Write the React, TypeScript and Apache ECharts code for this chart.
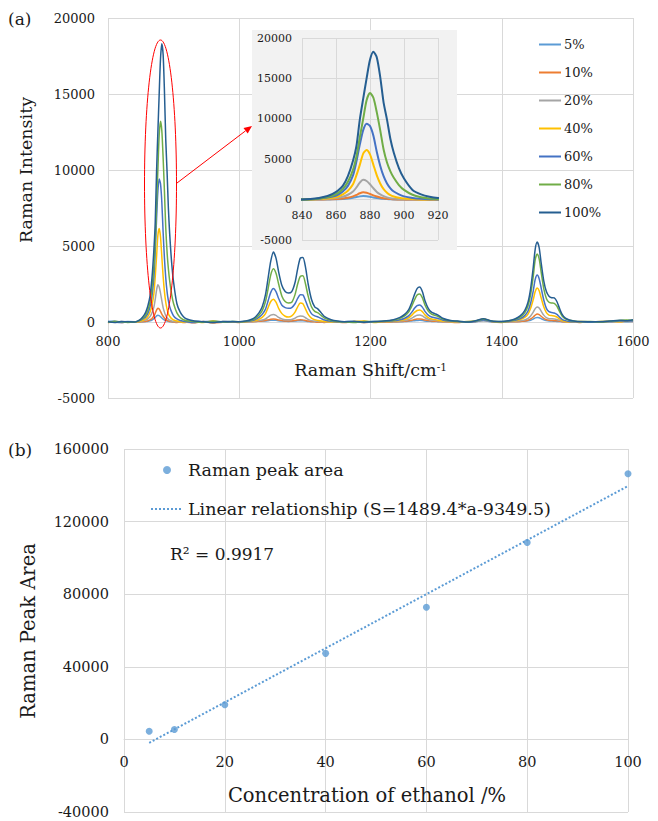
import React, { useEffect, useRef } from 'react';
import * as echarts from 'echarts';

// ---------- Panel (a): Raman spectra ----------
const shifts = [
  800, 810, 820, 830, 840,
  845, 850, 855, 858, 861, 864, 867, 870, 872, 874, 876, 878, 880, 882, 884, 886, 888, 890, 892, 894, 897, 900, 905, 910, 915, 920,
  930, 945, 960, 975, 990,
  1000, 1010, 1020, 1025, 1030, 1035, 1040, 1044, 1048, 1052, 1056, 1060, 1065, 1070, 1075, 1080, 1085, 1089, 1093, 1097, 1101, 1105, 1110, 1115, 1120, 1125, 1130, 1140, 1150, 1160,
  1175, 1190, 1205, 1220,
  1235, 1245, 1252, 1258, 1263, 1267, 1271, 1275, 1279, 1283, 1288, 1293, 1298, 1303, 1310, 1320, 1335, 1350,
  1360, 1372, 1385, 1400,
  1410, 1420, 1428, 1435, 1440, 1444, 1448, 1451, 1454, 1457, 1460, 1464, 1468, 1472, 1476, 1480, 1484, 1488, 1492, 1497, 1503, 1510, 1520, 1535, 1550,
  1565, 1580, 1590, 1600,
];

const concLabels = ['5%', '10%', '20%', '40%', '60%', '80%', '100%'];
const seriesColors = ['#5B9BD5', '#ED7D31', '#A5A5A5', '#FFC000', '#4472C4', '#70AD47', '#255E91'];

const s5 = [
  30, 60, -10, 40, 20,
  0, 10, 20, 30, 50, 80, 130, 220, 310, 400, 450, 420, 350, 260, 190, 130, 90, 60, 40, 20, 10, 0, 30, 10, 20, 0,
  40, 10, 60, 20, 30,
  10, 20, 30, 40, 50, 60, 70, 90, 110, 120, 110, 80, 60, 50, 40, 50, 60, 80, 90, 80, 60, 40, 20, 30, 10, 20, 0, 30, 10, 20,
  40, 10, 30, 0,
  10, 20, 30, 50, 70, 90, 100, 110, 100, 70, 50, 40, 30, 20, 10, 20, 0, 30,
  20, 100, 10, 30,
  20, 30, 40, 50, 80, 120, 200, 270, 300, 280, 220, 140, 90, 60, 60, 50, 40, 30, 20, 10, 30, 0, 20, 10, 30,
  20, 50, 10, 40,
];
const s10 = [
  -40, 20, -30, 10, -20,
  0, 10, 30, 50, 80, 140, 230, 400, 580, 780, 900, 850, 700, 520, 380, 260, 170, 110, 70, 40, 20, 0, -30, -10, -40, -20,
  -50, 30, -60, -20, 10,
  -30, 10, 20, 30, 50, 70, 100, 140, 180, 200, 180, 130, 90, 70, 60, 70, 100, 130, 150, 140, 100, 60, 30, 10, -20, 0, -30, 20, -10, -40,
  30, -40, 10, -20,
  10, 30, 50, 80, 120, 160, 190, 200, 180, 130, 90, 60, 50, 40, 20, 0, -30, 10,
  30, 150, 20, -30,
  10, 20, 40, 70, 120, 200, 330, 450, 530, 490, 380, 240, 150, 110, 100, 90, 80, 50, 20, 0, -20, 10, -30, 20, -10,
  40, 10, 60, 30,
];
const s20 = [
  10, -20, 30, 0, -10,
  10, 40, 90, 140, 220, 350, 600, 1000, 1500, 2100, 2450, 2300, 1900, 1400, 950, 650, 420, 280, 180, 120, 70, 40, 10, 0, 20, -10,
  20, 0, -30, 40, 10,
  10, 20, 40, 60, 90, 130, 200, 330, 450, 500, 430, 300, 200, 150, 150, 170, 250, 350, 400, 380, 280, 170, 90, 50, 40, 30, 10, 0, 20, 10,
  -20, 30, 10, 20,
  30, 60, 100, 160, 260, 360, 440, 460, 400, 280, 180, 130, 110, 90, 50, 20, 0, 10,
  20, 90, 30, 0,
  20, 40, 80, 140, 240, 400, 650, 880, 990, 920, 720, 450, 280, 220, 210, 200, 170, 110, 60, 20, 10, 0, 20, -10, 10,
  20, 40, 30, 50,
];
const s40 = [
  -30, 40, 0, -20, 10,
  20, 70, 150, 230, 380, 650, 1100, 1900, 3000, 4300, 5700, 6150, 5600, 4300, 3000, 2000, 1300, 850, 550, 380, 220, 130, 60, 20, 0, 10,
  50, -40, 60, -10, 20,
  0, 20, 60, 100, 180, 300, 550, 950, 1350, 1500, 1300, 900, 550, 380, 330, 400, 650, 1000, 1250, 1200, 850, 500, 250, 150, 100, 60, 30, 0, 20, -20,
  40, 60, -30, 30,
  50, 100, 170, 280, 450, 630, 760, 790, 680, 470, 290, 200, 160, 120, 60, 30, 10, 30,
  60, 200, 40, -20,
  30, 80, 160, 300, 520, 900, 1480, 2000, 2240, 2050, 1600, 1000, 620, 450, 420, 400, 330, 200, 100, 40, 20, 10, 30, -10, 40,
  50, 20, 80, 100,
];
const s60 = [
  30, -10, -40, 20, 0,
  40, 120, 250, 380, 600, 1000, 1700, 3000, 4700, 6800, 8600, 9400, 9100, 7900, 5900, 4200, 2900, 2000, 1400, 1000, 650, 400, 200, 100, 50, 20,
  -30, 40, 0, -20, 30,
  10, 30, 100, 170, 300, 500, 850, 1400, 1950, 2200, 2000, 1550, 1100, 950, 900, 950, 1200, 1550, 1800, 1780, 1400, 950, 550, 400, 330, 230, 130, 50, 20, 0,
  30, -30, 20, 40,
  80, 150, 250, 400, 650, 900, 1080, 1120, 980, 700, 450, 330, 280, 230, 130, 60, 20, -10,
  40, 130, 30, 10,
  40, 110, 220, 420, 720, 1250, 2050, 2800, 3090, 2850, 2250, 1450, 900, 680, 620, 590, 500, 330, 180, 90, 40, 20, 10, -20, 20,
  30, 70, 90, 60,
];
const s80 = [
  -20, 30, 10, -30, 0,
  50, 150, 330, 500, 800, 1300, 2200, 3700, 5300, 7700, 10000, 12300, 13200, 12600, 10800, 8600, 6200, 4600, 3500, 2700, 1800, 1200, 600, 300, 150, 80,
  30, -20, 50, 0, 40,
  10, 50, 150, 260, 450, 750, 1350, 2200, 3100, 3500, 3200, 2500, 1700, 1350, 1250, 1300, 1800, 2500, 3000, 3050, 2500, 1700, 1000, 700, 600, 420, 250, 100, 40, 10,
  -30, 40, 20, 50,
  120, 240, 400, 650, 1050, 1450, 1780, 1850, 1600, 1120, 720, 520, 440, 360, 200, 100, 40, 10,
  60, 180, 50, 20,
  60, 160, 320, 600, 1050, 1800, 3000, 4100, 4470, 4150, 3300, 2200, 1550, 1300, 1250, 1230, 1050, 700, 400, 200, 110, 60, 20, 30, 0,
  50, 100, 130, 120,
];
const s100 = [
  20, -30, 40, 10, 0,
  60, 200, 450, 700, 1100, 1700, 2900, 4800, 6600, 9900, 12500, 15000, 17300, 18300, 17600, 15200, 12000, 9900, 7500, 5800, 3900, 2600, 1200, 650, 350, 200,
  80, 20, -40, 30, 10,
  20, 60, 200, 350, 600, 1000, 1800, 2900, 4000, 4600, 4200, 3300, 2400, 2000, 1900, 2000, 2600, 3500, 4200, 4250, 3600, 2500, 1500, 1000, 850, 600, 350, 150, 60, 20,
  40, -20, 30, 60,
  150, 300, 500, 800, 1300, 1800, 2200, 2300, 2000, 1400, 900, 650, 550, 450, 250, 120, 50, 0,
  80, 220, 60, 30,
  80, 200, 400, 750, 1300, 2200, 3600, 4800, 5260, 4900, 3900, 2700, 2000, 1700, 1600, 1580, 1350, 900, 500, 250, 130, 70, 30, 20, 10,
  60, 120, 80, 150,
];
const spectra = [s5, s10, s20, s40, s60, s80, s100];

// ---------- Panel (b): peak area vs concentration ----------
const concentrations = [5, 10, 20, 40, 60, 80, 100];
const peakAreas = [4500, 5500, 19100, 47400, 72800, 108500, 146400];
const fitX = [5, 100];
const fitY = [-1902, 139591];
const scatterName = 'Raman peak area';
const fitName = 'Linear relationship (S=1489.4*a-9349.5)';

export default function App() {
  const ref = useRef<HTMLDivElement>(null);

  useEffect(() => {
    if (!ref.current) return;
    const chart = echarts.init(ref.current, null, { renderer: 'svg' });
    const font = 'DejaVu Serif';
    const txt = '#1a1a1a';
    const gridLine = { color: '#D9D9D9', width: 1 };
    const plain = (v: number) => String(v);

    const mainSeries = spectra.map((vals, i) => ({
      name: concLabels[i],
      type: 'line',
      xAxisIndex: 0,
      yAxisIndex: 0,
      data: shifts.map((x, j) => [x, vals[j]]),
      symbol: 'none',
      smooth: 0.25,
      lineStyle: { width: 1.5, color: seriesColors[i] },
      itemStyle: { color: seriesColors[i] },
      z: 2,
    }));
    const insetSeries = spectra.map((vals, i) => ({
      name: concLabels[i],
      type: 'line',
      xAxisIndex: 1,
      yAxisIndex: 1,
      data: shifts.map((x, j) => [x, vals[j]]),
      symbol: 'none',
      smooth: 0.25,
      clip: true,
      lineStyle: { width: 2, color: seriesColors[i] },
      itemStyle: { color: seriesColors[i] },
      z: 4,
    }));

    const option: any = {
      animation: false,
      textStyle: { fontFamily: font, color: txt },
      grid: [
        { left: 108, top: 18, width: 525, height: 380, outerBoundsMode: 'none', containLabel: false },
        { left: 302, top: 38, width: 136, height: 202, z: 3, outerBoundsMode: 'none', containLabel: false },
        { left: 124, top: 449, width: 504, height: 363, outerBoundsMode: 'none', containLabel: false },
      ],
      xAxis: [
        {
          gridIndex: 0, type: 'value', min: 800, max: 1600, interval: 200,
          offset: -76,
          axisLine: { onZero: false, lineStyle: gridLine },
          axisTick: { show: false },
          axisLabel: { fontSize: 13, color: txt, fontFamily: font, margin: 13, formatter: plain },
          splitLine: { show: true, lineStyle: gridLine },
          name: 'Raman Shift/cm{sup|-1}',
          nameLocation: 'middle',
          nameGap: 39,
          nameTextStyle: {
            fontSize: 17.5, color: txt, fontFamily: font,
            rich: { sup: { fontSize: 10.5, fontFamily: font, color: txt, verticalAlign: 'top', lineHeight: 10 } },
          },
        },
        {
          gridIndex: 1, type: 'value', min: 840, max: 920, interval: 20, z: 3,
          offset: -40.4,
          axisLine: { onZero: false, lineStyle: gridLine },
          axisTick: { show: false },
          axisLabel: { fontSize: 11, color: txt, fontFamily: font, margin: 10, formatter: plain },
          splitLine: { show: true, lineStyle: gridLine },
        },
        {
          gridIndex: 2, type: 'value', min: 0, max: 100, interval: 20,
          offset: -72.6,
          axisLine: { onZero: false, lineStyle: gridLine },
          axisTick: { show: false },
          axisLabel: { fontSize: 14.5, color: txt, fontFamily: font, margin: 15, formatter: plain },
          splitLine: { show: true, lineStyle: gridLine },
          name: 'Concentration of ethanol /%',
          nameLocation: 'middle',
          nameGap: 46,
          nameTextStyle: { fontSize: 19.5, color: txt, fontFamily: font, padding: [0, 18, 0, 0] },
        },
      ],
      yAxis: [
        {
          gridIndex: 0, type: 'value', min: -5000, max: 20000, interval: 5000,
          axisLine: { show: false, onZero: false },
          axisTick: { show: false },
          axisLabel: { fontSize: 13, color: txt, fontFamily: font, margin: 13, formatter: plain },
          splitLine: { show: true, lineStyle: gridLine },
        },
        {
          gridIndex: 1, type: 'value', min: -5000, max: 20000, interval: 5000, z: 3,
          axisLine: { show: false, onZero: false },
          axisTick: { show: false },
          axisLabel: { fontSize: 11, color: txt, fontFamily: font, margin: 10, formatter: plain },
          splitLine: { show: true, lineStyle: gridLine },
        },
        {
          gridIndex: 2, type: 'value', min: -40000, max: 160000, interval: 40000,
          axisLine: { show: false, onZero: false },
          axisTick: { show: false },
          axisLabel: { fontSize: 14.5, color: txt, fontFamily: font, margin: 15, formatter: plain },
          splitLine: { show: true, lineStyle: gridLine },
        },
      ],
      legend: [
        {
          data: concLabels,
          orient: 'vertical',
          left: 533,
          top: 33,
          itemWidth: 22,
          itemHeight: 14,
          itemGap: 15,
          itemStyle: { opacity: 0 },
          textStyle: { fontSize: 13, color: txt, fontFamily: font, padding: [0, 0, 0, -2] },
        },
        {
          data: [{ name: scatterName }, { name: fitName, itemStyle: { opacity: 0 } }],
          orient: 'vertical',
          left: 145,
          top: 456,
          itemWidth: 32,
          itemHeight: 8,
          itemGap: 21,
          textStyle: { fontSize: 17.5, color: txt, fontFamily: font },
        },
      ],
      series: [
        ...mainSeries,
        ...insetSeries,
        {
          name: fitName,
          type: 'line',
          xAxisIndex: 2,
          yAxisIndex: 2,
          data: fitX.map((x, i) => [x, fitY[i]]),
          symbol: 'none',
          lineStyle: { width: 2, color: '#5B9BD5', type: [2, 2] },
          itemStyle: { color: '#5B9BD5' },
          z: 2,
        },
        {
          name: scatterName,
          type: 'scatter',
          xAxisIndex: 2,
          yAxisIndex: 2,
          data: concentrations.map((x, i) => [x, peakAreas[i]]),
          symbol: 'circle',
          symbolSize: 7,
          itemStyle: { color: '#5B9BD5' },
          z: 3,
        },
      ],
      graphic: [
        { type: 'rect', z: 1, shape: { x: 252, y: 30, width: 205, height: 220 }, style: { fill: '#F2F2F2' } },
        { type: 'ellipse', z: 10, shape: { cx: 160.5, cy: 184, rx: 16, ry: 144 }, style: { fill: 'none', stroke: '#FF0000', lineWidth: 1 } },
        { type: 'line', z: 10, shape: { x1: 177, y1: 183, x2: 245.6, y2: 130.8 }, style: { stroke: '#FF0000', lineWidth: 1 } },
        { type: 'polygon', z: 10, shape: { points: [[252, 126], [247.7, 133.6], [243.5, 128.0]] }, style: { fill: '#FF0000' } },
        {
          type: 'text', z: 10, x: 8, y: 19,
          style: { text: '(a)', fontSize: 17, fontFamily: font, fill: txt, align: 'left', verticalAlign: 'middle', textAlign: 'left', textVerticalAlign: 'middle' },
        },
        {
          type: 'text', z: 10, x: 8, y: 450,
          style: { text: '(b)', fontSize: 17, fontFamily: font, fill: txt, align: 'left', verticalAlign: 'middle', textAlign: 'left', textVerticalAlign: 'middle' },
        },
        {
          type: 'text', z: 10, x: 26, y: 170, rotation: Math.PI / 2,
          style: { text: 'Raman Intensity', fontSize: 17.5, fontFamily: font, fill: txt, align: 'center', verticalAlign: 'middle', textAlign: 'center', textVerticalAlign: 'middle' },
        },
        {
          type: 'text', z: 10, x: 28, y: 631, rotation: Math.PI / 2,
          style: { text: 'Raman Peak Area', fontSize: 19.5, fontFamily: font, fill: txt, align: 'center', verticalAlign: 'middle', textAlign: 'center', textVerticalAlign: 'middle' },
        },
        {
          type: 'text', z: 10, x: 170, y: 554,
          style: { text: 'R² = 0.9917', fontSize: 17, fontFamily: font, fill: txt, align: 'left', verticalAlign: 'middle', textAlign: 'left', textVerticalAlign: 'middle' },
        },
      ],
    };

    chart.setOption(option);
    return () => chart.dispose();
  }, []);

  return (
    <div
      ref={ref}
      style={{ position: 'absolute', left: 0, top: 0, width: 658, height: 821, background: '#ffffff' }}
    />
  );
}
